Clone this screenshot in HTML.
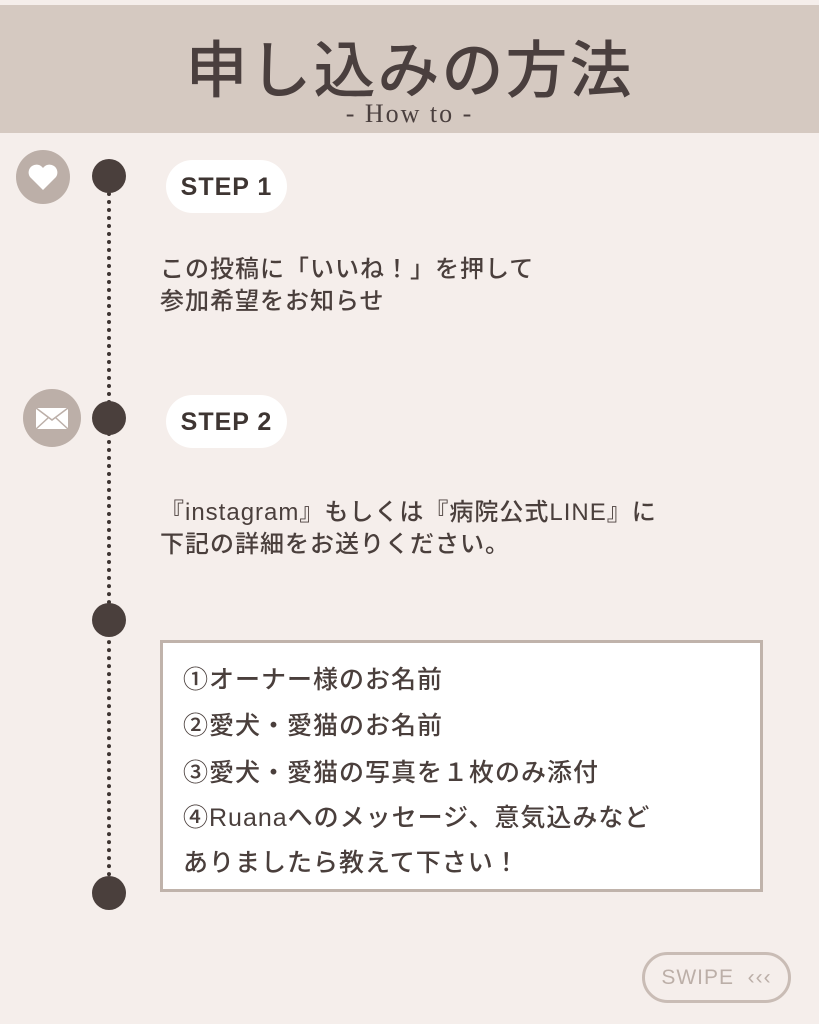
<!DOCTYPE html>
<html><head><meta charset="utf-8"><style>
body{margin:0;width:819px;height:1024px;background:#f5eeeb;position:relative;overflow:hidden;font-family:"Liberation Sans","Noto Sans CJK JP",sans-serif;color:#4a3f3c}
.hdr{position:absolute;left:0;top:5px;width:819px;height:128px;background:#d5c9c1}
.title{position:absolute;left:0;width:819px;top:20px;text-align:center;font-size:62px;font-weight:500;color:#4a3f3e;letter-spacing:2px}
.sub{position:absolute;left:0;width:819px;top:99px;text-align:center;font-family:"Liberation Serif",serif;font-size:26px;letter-spacing:2px;color:#4a3f3e}
.line{position:absolute;left:107px;top:176px;height:717px;border-left:4px dotted #3e3532}
.dot{position:absolute;width:34px;height:34px;border-radius:50%;background:#4a3f3c;left:92px}
.pill{position:absolute;left:166px;width:121px;height:53px;background:#fff;border-radius:27px;font-weight:bold;font-size:25px;text-align:center;line-height:55px;letter-spacing:1px;color:#3e3532}
.t{position:absolute;left:160px;font-size:24px;line-height:32px;font-weight:500;letter-spacing:1px;white-space:nowrap}
.box{position:absolute;left:160px;top:640px;width:597px;height:246px;border:3px solid #c0b3ab;background:#fff}
.box div{position:absolute;left:20px;font-size:25px;font-weight:500;white-space:nowrap;letter-spacing:1px}
.ic{position:absolute;border-radius:50%;background:#bcafa8}
.swipe{position:absolute;left:642px;top:952px;width:143px;height:45px;border:3px solid #c9bcb5;border-radius:26px;color:#bcafa8;font-size:21px;line-height:45px;text-align:center;letter-spacing:1px}
</style></head><body>
<div class="hdr"></div>
<div class="title">申し込みの方法</div>
<div class="sub">- How to -</div>
<div class="line"></div>
<div class="dot" style="top:159px"></div>
<div class="dot" style="top:401px"></div>
<div class="dot" style="top:603px"></div>
<div class="dot" style="top:876px"></div>
<div class="ic" style="left:16px;top:150px;width:54px;height:54px"><svg width="54" height="54"><path d="M27 40 L14 27 A7 7 0 0 1 27 18 A7 7 0 0 1 40 27 Z" fill="#fff"/></svg></div>
<div class="ic" style="left:23px;top:389px;width:58px;height:58px"><svg width="58" height="58"><rect x="13" y="19" width="32" height="21" fill="#fff"/><path d="M13 19 L29 31 L45 19 M13 40 L25 29 M45 40 L33 29" stroke="#bcafa8" stroke-width="1.5" fill="none"/></svg></div>
<div class="pill" style="top:160px">STEP 1</div>
<div class="pill" style="top:395px">STEP 2</div>
<div class="t" style="top:254px">この投稿に「いいね！」を押して<br>参加希望をお知らせ</div>
<div class="t" style="top:497px">『instagram』もしくは『病院公式LINE』に<br>下記の詳細をお送りください。</div>
<div class="box">
<div style="top:17px">①オーナー様のお名前</div>
<div style="top:63px">②愛犬・愛猫のお名前</div>
<div style="top:110px">③愛犬・愛猫の写真を１枚のみ添付</div>
<div style="top:155px">④Ruanaへのメッセージ、意気込みなど</div>
<div style="top:200px">ありましたら教えて下さい！</div>
</div>
<div class="swipe">SWIPE &nbsp;‹‹‹</div>
</body></html>
